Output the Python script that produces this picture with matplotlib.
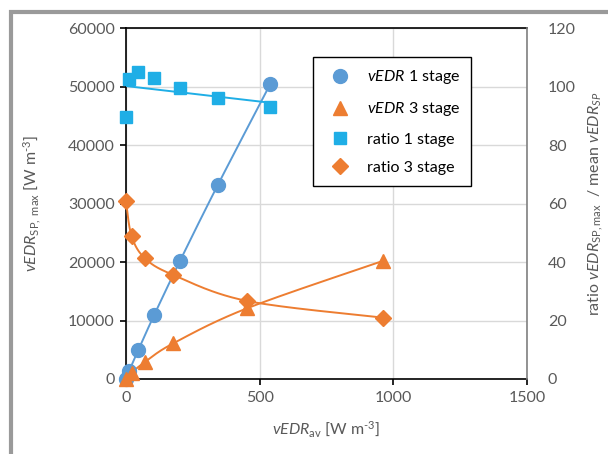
import numpy as np
import matplotlib
matplotlib.use("Agg")
import matplotlib.pyplot as plt
from matplotlib.patches import Rectangle

plt.rcParams['font.family'] = ['Lato', 'DejaVu Sans']
plt.rcParams['mathtext.fontset'] = 'custom'
plt.rcParams['mathtext.rm'] = 'Lato'
plt.rcParams['mathtext.it'] = 'Lato:italic'

# data
x_1stage = [0, 12, 46, 106, 202, 343, 539]
vedr_1stage = [0, 1400, 4950, 11000, 20200, 33150, 50400]
ratio_1stage = [89.5, 102.6, 104.9, 102.9, 99.4, 96.0, 93.2]

x_3stage = [0, 21, 71, 177, 453, 961]
vedr_3stage = [0, 1080, 2900, 6100, 12100, 20200]
ratio_3stage = [60.9, 48.9, 41.3, 35.6, 26.7, 21.0]

BLUE = '#5B9BD5'
ORANGE = '#ED7D31'
LIGHTBLUE = '#1FAEE6'
TXT = '#595959'
FS = 11.5


def smooth(x, y, xr, yr, n=40):
    """Catmull-Rom style smoothed line (like a spreadsheet 'smoothed line')"""
    px = np.asarray(x, float) / xr
    py = np.asarray(y, float) / yr
    pts = np.column_stack([px, py])
    pts = np.vstack([pts[0], pts, pts[-1]])
    out = []
    for i in range(1, len(pts) - 2):
        p0, p1, p2, p3 = pts[i - 1], pts[i], pts[i + 1], pts[i + 2]
        c1 = p1 + (p2 - p0) / 6
        c2 = p2 - (p3 - p1) / 6
        t = np.linspace(0, 1, n)[:, None]
        seg = ((1 - t) ** 3) * p1 + 3 * ((1 - t) ** 2) * t * c1 + 3 * (1 - t) * t ** 2 * c2 + t ** 3 * p2
        out.append(seg)
    out = np.vstack(out)
    return out[:, 0] * xr, out[:, 1] * yr


fig = plt.figure(figsize=(6.08, 4.54), dpi=100)
ax = fig.add_axes([0.2072, 0.1652, 0.6596, 0.7725])
ax2 = ax.twinx()

# lines
sx, sy = smooth(x_1stage, vedr_1stage, 1500, 60000)
ax.plot(sx, sy, color=BLUE, lw=1.4, zorder=3)
sx, sy = smooth(x_3stage, vedr_3stage, 1500, 60000)
ax.plot(sx, sy, color=ORANGE, lw=1.4, zorder=3)

# markers
h1, = ax.plot(x_1stage, vedr_1stage, 'o', color=BLUE, ms=10, zorder=4, clip_on=False,
              label=r'$\it{vEDR}$ 1 stage')
h2, = ax.plot(x_3stage, vedr_3stage, '^', color=ORANGE, ms=10, zorder=4, clip_on=False,
              label=r'$\it{vEDR}$ 3 stage')

fit = np.polyfit(x_1stage, ratio_1stage, 1)
lx = np.array([0, max(x_1stage)])
ax2.plot(lx, np.polyval(fit, lx), color=LIGHTBLUE, lw=1.4, zorder=3)
sx, sy = smooth(x_3stage, ratio_3stage, 1500, 120)
ax2.plot(sx, sy, color=ORANGE, lw=1.4, zorder=3)
h3, = ax2.plot(x_1stage, ratio_1stage, 's', color=LIGHTBLUE, ms=8.5, zorder=4, clip_on=False,
               label='ratio 1 stage')
h4, = ax2.plot(x_3stage, ratio_3stage, 'D', color=ORANGE, ms=8, zorder=4, clip_on=False,
               label='ratio 3 stage')

ax.set_xlim(0, 1500)
ax.set_ylim(0, 60000)
ax2.set_ylim(0, 120)
ax.set_xticks([0, 500, 1000, 1500])
ax.set_yticks(np.arange(0, 60001, 10000))
ax2.set_yticks(np.arange(0, 121, 20))
ax.grid(True, color='#D9D9D9', lw=1.0)
ax.set_axisbelow(True)

for s in ['left', 'bottom', 'top']:
    ax.spines[s].set_color('black')
    ax.spines[s].set_linewidth(1.2)
ax.spines['right'].set_visible(False)
for s in ['left', 'bottom', 'top']:
    ax2.spines[s].set_visible(False)
ax2.spines['right'].set_color('#808080')
ax2.spines['right'].set_linewidth(1.2)

ax.tick_params(axis='x', direction='out', length=4, width=1.2, color='black',
               labelsize=FS, labelcolor=TXT, pad=5)
ax.tick_params(axis='y', direction='out', length=4, width=1.2, color='black',
               labelsize=FS, labelcolor=TXT, pad=4)
ax2.tick_params(axis='y', length=0, labelsize=FS, labelcolor=TXT, pad=15)

ax.set_xlabel(r'$\it{vEDR}_{\rm av}$ [W m$^{\text{-3}}$]', fontsize=FS, color=TXT, labelpad=10)
ax.set_ylabel(r'$\it{vEDR}_{\rm SP,\ max}$ [W m$^{\text{-3}}$]', fontsize=FS, color=TXT, labelpad=18)
ax2.set_ylabel(r'ratio $\it{vEDR}_{\rm SP,max}$  / mean $\it{vEDR}_{SP}$', fontsize=FS,
               color=TXT, labelpad=8)

leg = ax2.legend(handles=[h1, h2, h3, h4], loc='upper left', bbox_to_anchor=(0.466, 0.918),
                 borderaxespad=0, fancybox=False, framealpha=1, edgecolor='black',
                 fontsize=FS, labelspacing=0.88, handletextpad=0.7, borderpad=0.7,
                 handlelength=2.0)
leg.get_frame().set_linewidth(1.0)
for t in leg.get_texts():
    t.set_color('black')

# grey outer frame
fig.patches.append(Rectangle((10.5 / 608, -0.2), 1.2, 1.2 - 11.5 / 454, transform=fig.transFigure,
                             fill=False, edgecolor='#9A9A9A', lw=3, clip_on=False))

fig.savefig('out.png', dpi=100)
